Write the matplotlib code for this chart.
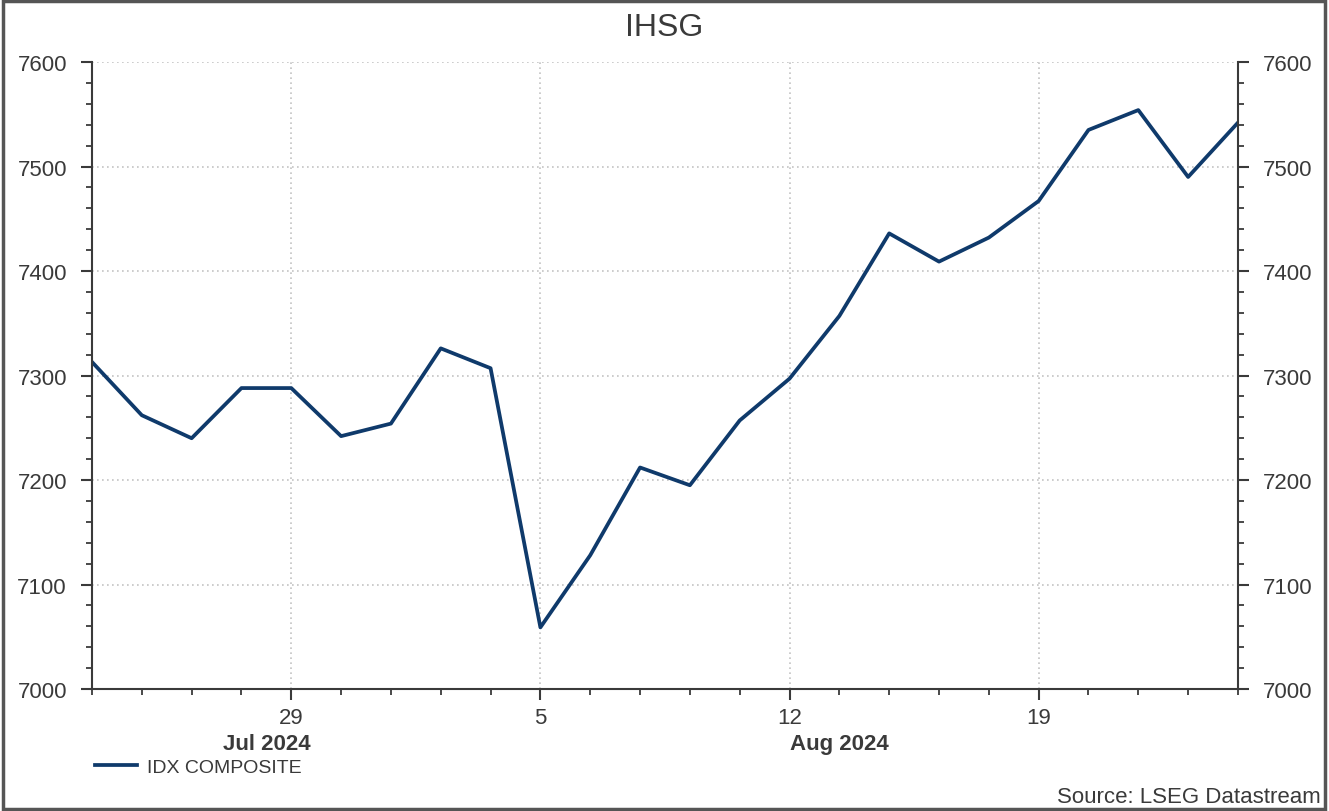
import numpy as np
import pandas as pd
import matplotlib
matplotlib.use("Agg")
import matplotlib.pyplot as plt
from matplotlib.patches import Rectangle
from matplotlib.ticker import FixedLocator, MultipleLocator

# IDX Composite daily closes (business days)
dates = ["2024-07-23", "2024-07-24", "2024-07-25", "2024-07-26",
         "2024-07-29", "2024-07-30", "2024-07-31", "2024-08-01", "2024-08-02",
         "2024-08-05", "2024-08-06", "2024-08-07", "2024-08-08", "2024-08-09",
         "2024-08-12", "2024-08-13", "2024-08-14", "2024-08-15", "2024-08-16",
         "2024-08-19", "2024-08-20", "2024-08-21", "2024-08-22", "2024-08-23"]
idx_close = [7313, 7262, 7240, 7288,
             7288, 7242, 7254, 7326, 7307,
             7059, 7128, 7212, 7195, 7257,
             7297, 7357, 7436, 7409, 7432,
             7467, 7535, 7554, 7490, 7542]

title = "IHSG"
series_name = "IDX COMPOSITE"
source = "Source: LSEG Datastream"

LINE = "#0f3a6b"
DARK = "#3a3a3a"
GRID = "#c4c4c4"
plt.rcParams["font.family"] = ["Liberation Sans", "DejaVu Sans"]

d = pd.to_datetime(dates)
x = np.arange(len(d))
mondays = [i for i, t in enumerate(d) if t.weekday() == 0]

fig = plt.figure(figsize=(13.29, 8.12), dpi=100)
ax = fig.add_axes([0.0692, 0.1502, 0.8623, 0.7722])

ax.plot(x, idx_close, color=LINE, lw=2.7, label=series_name)

ax.set_xlim(x[0], x[-1])
ax.set_ylim(7000, 7600)

ax.xaxis.set_major_locator(FixedLocator(mondays))
ax.xaxis.set_minor_locator(FixedLocator(x))
ax.set_xticklabels([str(d[i].day) for i in mondays])
ax.yaxis.set_major_locator(MultipleLocator(100))
ax.yaxis.set_minor_locator(MultipleLocator(20))

ax.grid(True, which="major", color=GRID, ls=(0, (1, 2)), lw=1.2)
for s in ["left", "right", "bottom"]:
    ax.spines[s].set_color(DARK)
    ax.spines[s].set_linewidth(1.5)
ax.spines["top"].set_visible(False)

ax.tick_params(axis="y", which="both", left=True, right=True, labelleft=True,
               labelright=True, direction="out", color=DARK, labelcolor=DARK,
               labelsize=16)
ax.tick_params(axis="y", which="major", length=8, width=1.5, pad=10)
ax.tick_params(axis="y", which="minor", length=4, width=1.3)
ax.tick_params(axis="x", which="both", direction="out", color=DARK,
               labelcolor=DARK, labelsize=16)
ax.tick_params(axis="x", which="major", length=8, width=1.5, pad=5)
ax.tick_params(axis="x", which="minor", length=4, width=1.3)

# month labels centred on each month's span
months = d.to_period("M")
for m in months.unique():
    idx = np.where(months == m)[0]
    start = idx[0]
    end = idx[-1] + 1 if idx[-1] + 1 < len(x) else idx[-1]
    ax.text((start + end) / 2, -0.087, m.strftime("%b %Y"),
            transform=ax.get_xaxis_transform(), ha="center", va="center",
            fontsize=16, fontweight="bold", color=DARK)

fig.text(0.5, 0.966, title, ha="center", va="center", fontsize=23, color=DARK)
fig.legend(loc="center left", bbox_to_anchor=(0.058, 0.054), frameon=False,
           fontsize=14, handlelength=2.2, handletextpad=0.5, labelcolor=DARK)
fig.text(0.994, 0.018, source, ha="right", va="center", fontsize=16, color=DARK)

fig.add_artist(Rectangle((0.002, 0.003), 0.995, 0.994, transform=fig.transFigure,
                         fill=False, edgecolor="#555555", lw=2.5))

fig.savefig("out.png", dpi=100)
